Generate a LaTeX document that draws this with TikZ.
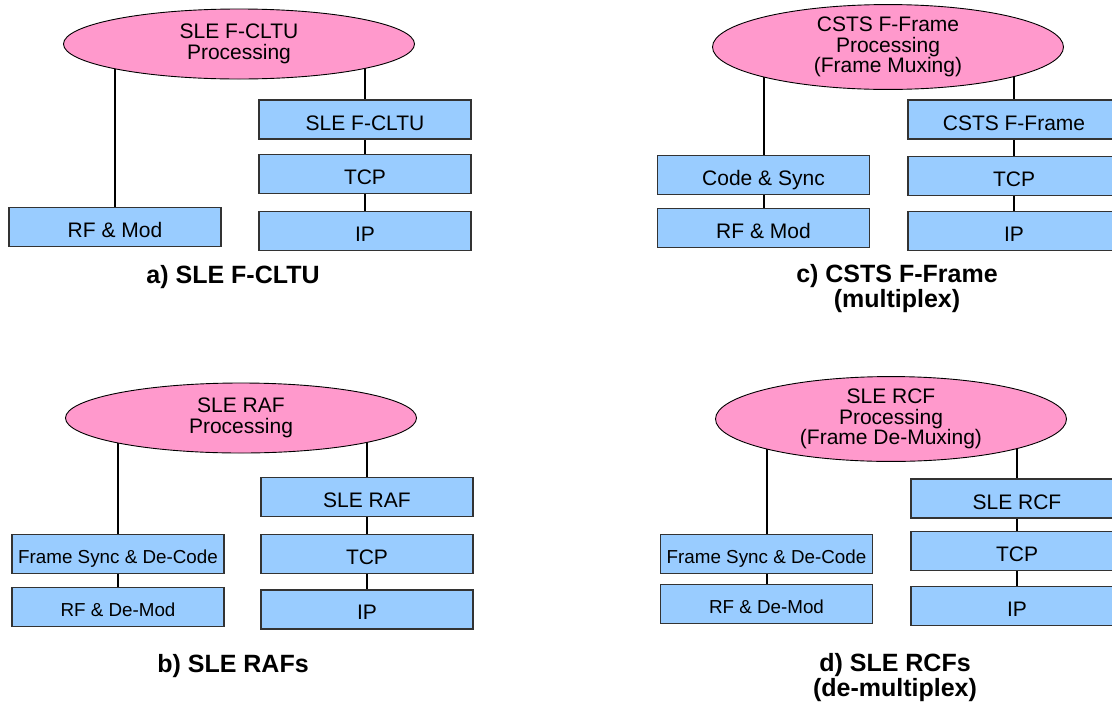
\documentclass[tikz,border=0pt]{standalone}
\usepackage{fontspec}
\setmainfont{Liberation Sans}
\usetikzlibrary{positioning}
\usetikzlibrary{shapes.geometric}
\usetikzlibrary{backgrounds}
\definecolor{procpink}{HTML}{FF99CC}
\definecolor{layerblue}{HTML}{99CCFF}
\tikzset{%
  proc/.style = {ellipse,draw,fill=procpink,line width=0.9pt,inner sep=0pt,
        minimum width=351pt,minimum height=70pt,align=center,
        font=\fontsize{21}{20.5}\selectfont},
  layer/.style = {rectangle,draw=black!80,fill=layerblue,line width=1.2pt,
        minimum width=212pt,minimum height=39pt,inner sep=0pt,
        text height=21pt,text depth=0pt,
        font=\fontsize{21}{24}\selectfont},
  smalltext/.style = {font=\fontsize{18.8}{22}\selectfont,text height=19.5pt},
  conn/.style = {draw,line width=2pt},
  captxt/.style = {align=center,font=\fontsize{25}{25}\selectfont\bfseries}
}

\begin{document}
\begin{tikzpicture}[x=1pt,y=-1pt]
    \clip (0,0) rectangle (1112,705);
    % a) forward CLTU
    \node[proc] (ellA) at (239,44) {SLE F-CLTU\\Processing};
    \node[layer] (rfA) at (115,227) {RF \& Mod};
    \node[layer] (cltuA) at (365,119.5) {SLE F-CLTU};
    \node[layer,below=14pt of cltuA] (tcpA) {TCP};
    \node[layer,below=17pt of tcpA] (ipA) {IP};
    \node[captxt] (capA) at (233,277) {a) SLE F-CLTU};

    % b) return all frames
    \node[proc] (ellB) at (241,418) {SLE RAF\\Processing};
    \node[layer,smalltext] (fsB) at (118,554) {Frame Sync \& De-Code};
    \node[layer,smalltext,below=13pt of fsB] (rfB) {RF \& De-Mod};
    \node[layer] (rafB) at (367,497) {SLE RAF};
    \node[layer,below=17pt of rafB] (tcpB) {TCP};
    \node[layer,below=15pt of tcpB] (ipB) {IP};
    \node[captxt] (capB) at (233,666) {b) SLE RAFs};

    % c) forward frame
    \node[proc,minimum height=83pt] (ellC) at (888,47)
        {CSTS F-Frame\\Processing\\(Frame Muxing)};
    \node[layer] (codeC) at (763.5,175) {Code \& Sync};
    \node[layer,below=13pt of codeC] (rfC) {RF \& Mod};
    \node[layer] (frameC) at (1014,119.5) {CSTS F-Frame};
    \node[layer,below=16pt of frameC] (tcpC) {TCP};
    \node[layer,below=15pt of tcpC] (ipC) {IP};
    \node[captxt] (capC) at (897,289) {c) CSTS F-Frame\\(multiplex)};

    % d) return channel frames
    \node[proc,minimum height=84pt] (ellD) at (891,419)
        {SLE RCF\\Processing\\(Frame De-Muxing)};
    \node[layer,smalltext] (fsD) at (766.5,554) {Frame Sync \& De-Code};
    \node[layer,smalltext,below=10pt of fsD] (rfD) {RF \& De-Mod};
    \node[layer] (rcfD) at (1017,498.5) {SLE RCF};
    \node[layer,below=12pt of rcfD] (tcpD) {TCP};
    \node[layer,below=15pt of tcpD] (ipD) {IP};
    \node[captxt] (capD) at (895,678) {d) SLE RCFs\\(de-multiplex)};

    \begin{scope}[on background layer]
        \draw[conn] (rfA.north) -- (rfA.north |- ellA.center);
        \draw[conn] (cltuA.north) -- (cltuA.north |- ellA.center);
        \draw[conn] (cltuA) -- (tcpA);
        \draw[conn] (tcpA) -- (ipA);
        \draw[conn] (fsB.north) -- (fsB.north |- ellB.center);
        \draw[conn] (fsB) -- (rfB);
        \draw[conn] (rafB.north) -- (rafB.north |- ellB.center);
        \draw[conn] (rafB) -- (tcpB);
        \draw[conn] (tcpB) -- (ipB);
        \draw[conn] (codeC.north) -- (codeC.north |- ellC.center);
        \draw[conn] (codeC) -- (rfC);
        \draw[conn] (frameC.north) -- (frameC.north |- ellC.center);
        \draw[conn] (frameC) -- (tcpC);
        \draw[conn] (tcpC) -- (ipC);
        \draw[conn] (fsD.north) -- (fsD.north |- ellD.center);
        \draw[conn] (fsD) -- (rfD);
        \draw[conn] (rcfD.north) -- (rcfD.north |- ellD.center);
        \draw[conn] (rcfD) -- (tcpD);
        \draw[conn] (tcpD) -- (ipD);
    \end{scope}
\end{tikzpicture}
\end{document}
